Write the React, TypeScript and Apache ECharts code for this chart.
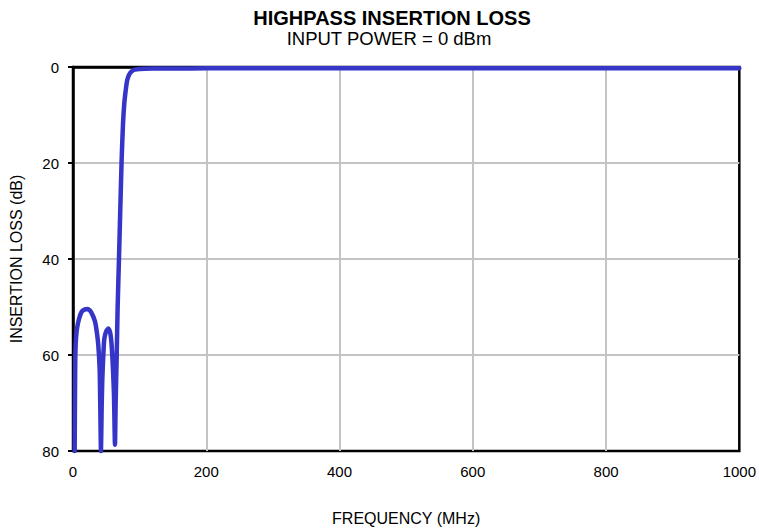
import React, { useEffect, useRef } from "react";
import * as echarts from "echarts";

const titleText = "HIGHPASS INSERTION LOSS";
const subtitleText = "INPUT POWER = 0 dBm";
const xAxisName = "FREQUENCY (MHz)";
const yAxisName = "INSERTION LOSS (dB)";

const freqMHz = [
  2.5, 3.0, 3.5, 4.5, 6, 9, 13, 18, 22.3, 27, 33, 36, 38, 40, 40.7, 42,
  43, 44, 45.5, 47, 50, 53, 56, 58, 60, 61.5, 63,
  64, 65.5, 67, 69, 71, 73, 75, 77, 79, 81, 83, 86, 89, 93, 100, 120, 150, 200, 300, 400, 500, 600, 700, 800, 900, 1000,
];
const lossDb = [
  80, 68, 60, 56.5, 54.5, 52.5, 51, 50.5, 50.4, 51, 53, 55.5, 58, 63, 68.3, 80,
  71, 65, 60, 56.6, 55, 54.5, 55.5, 58, 63, 68.3, 78.7,
  70, 60.7, 50, 40, 29.5, 19.3, 12, 7.5, 5, 3, 2, 1.2, 0.8, 0.55, 0.4, 0.32, 0.3, 0.28, 0.27, 0.27, 0.27, 0.27, 0.28, 0.28, 0.28, 0.28,
];

const xTicks = { min: 0, max: 1000, interval: 200 };
const yTicks = { min: 0, max: 80, interval: 20 };

const FONT = '"Liberation Sans", Arial, Helvetica, sans-serif';

export default function App() {
  const ref = useRef<HTMLDivElement>(null);
  useEffect(() => {
    if (!ref.current) return;
    const chart = echarts.init(ref.current, undefined, { renderer: "svg" });
    const data = freqMHz.map((f, i) => [f, lossDb[i]]);
    chart.setOption({
      animation: false,
      backgroundColor: "#ffffff",
      textStyle: { fontFamily: FONT },
      graphic: [
        {
          type: "text",
          x: 392,
          y: 18,
          style: {
            text: titleText,
            fill: "#000",
            font: `bold 20px ${FONT}`,
            align: "center",
            verticalAlign: "middle",
          },
        },
        {
          type: "text",
          x: 389,
          y: 38,
          style: {
            text: subtitleText,
            fill: "#000",
            font: `18.5px ${FONT}`,
            align: "center",
            verticalAlign: "middle",
          },
        },
      ],
      grid: {
        left: 71,
        top: 67,
        right: 16,
        bottom: 78,
        show: true,
        borderColor: "#000",
        borderWidth: 2.5,
        backgroundColor: "transparent",
      },
      xAxis: {
        type: "value",
        min: xTicks.min,
        max: xTicks.max,
        interval: xTicks.interval,
        name: xAxisName,
        nameLocation: "middle",
        nameGap: 59,
        nameTextStyle: { fontFamily: FONT, fontSize: 16, color: "#000" },
        axisLine: { show: true, lineStyle: { color: "#000", width: 2.5 } },
        axisTick: { show: false },
        axisLabel: {
          fontFamily: FONT,
          fontSize: 15,
          color: "#000",
          margin: 13,
          formatter: (v: number) => String(v),
        },
        splitLine: {
          show: true,
          showMinLine: false,
          showMaxLine: false,
          lineStyle: { color: "#c4c4c4", width: 2 },
        },
      },
      yAxis: {
        type: "value",
        inverse: true,
        min: yTicks.min,
        max: yTicks.max,
        interval: yTicks.interval,
        name: yAxisName,
        nameLocation: "middle",
        nameGap: 49,
        nameRotate: 90,
        nameTextStyle: { fontFamily: FONT, fontSize: 16, color: "#000" },
        axisLine: { show: true, lineStyle: { color: "#000", width: 2.5 } },
        axisTick: { show: true, inside: false, length: 5, lineStyle: { color: "#000", width: 2 } },
        axisLabel: {
          fontFamily: FONT,
          fontSize: 15,
          color: "#000",
          margin: 14,
          formatter: (v: number) => String(v),
        },
        splitLine: {
          show: true,
          showMinLine: false,
          showMaxLine: false,
          lineStyle: { color: "#c4c4c4", width: 2 },
        },
      },
      series: [
        {
          type: "line",
          data,
          showSymbol: false,
          symbol: "none",
          clip: false,
          smooth: 0.2,
          lineStyle: { color: "#3535c8", width: 4.5, cap: "round", join: "round" },
        },
      ],
    });
    return () => chart.dispose();
  }, []);
  return <div ref={ref} style={{ width: 759, height: 531, position: "absolute", left: 0, top: 0 }} />;
}
